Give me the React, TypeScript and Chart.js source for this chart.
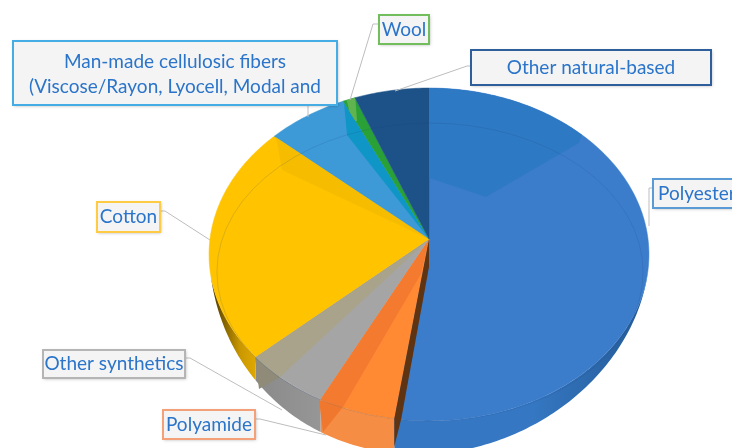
import React, { useEffect, useRef } from "react";
import { Chart, registerables } from "chart.js";

Chart.register(...registerables);

// ---- data ----
const categories = [
  "Polyester",
  "Polyamide",
  "Other synthetics",
  "Cotton",
  "Man-made cellulosic fibers",
  "Wool",
  "Other natural-based",
];
const shares = [52.3, 5.2, 5.8, 23.2, 6.5, 1.0, 6.0];
const topColors = ["#3C7DCB", "#FF8A33", "#A5A5A5", "#FFC300", "#3D9AD6", "#2AA136", "#1C5288"];
const sideLight = ["#3577C2", "#F58D45", "#969696", "#E0A800", "#3D9AD6", "#2AA136", "#1C5288"];
const sideDark = ["#245A96", "#F58D45", "#8A8A8A", "#4A3800", "#3D9AD6", "#2AA136", "#1C5288"];

// ---- label boxes (style) ----
type Box = { lines: string[]; x: number; y: number; w: number; h: number; border: string; lead: number[][] };
const boxes: Box[] = [
  { lines: ["Polyester"], x: 653, y: 179, w: 100, h: 29, border: "#5B9BD5", lead: [[653, 188], [649, 188], [649, 226]] },
  { lines: ["Polyamide"], x: 163, y: 410, w: 92, h: 29, border: "#F4A078", lead: [[255, 419], [260, 419], [326, 435]] },
  { lines: ["Other synthetics"], x: 43, y: 350, w: 142, h: 28, border: "#B5B5B5", lead: [[185, 358], [190, 358], [282, 410]] },
  { lines: ["Cotton"], x: 97, y: 202, w: 63, h: 30, border: "#FFCB45", lead: [[160, 211], [165, 211], [210, 240]] },
  {
    lines: ["Man-made cellulosic fibers", "(Viscose/Rayon, Lyocell, Modal and"],
    x: 13, y: 41, w: 324, h: 64, border: "#45ADE3", lead: [[308, 105], [308, 117]],
  },
  { lines: ["Wool"], x: 379, y: 15, w: 50, h: 29, border: "#72BE5C", lead: [[379, 24], [373, 24], [350, 100]] },
  { lines: ["Other natural-based"], x: 471, y: 50, w: 240, h: 35, border: "#2E5F9A", lead: [[471, 66], [467, 66], [395, 91]] },
];

// ---- pie geometry (style) ----
const CX = 429;
const CY = 239;
const RX = 219;
const RY = 165;
const PERSP = 0.093;

const rim = (t: number, r = 1): [number, number] => {
  const w = 1 / (1 - PERSP * Math.sin(t) * r);
  return [CX + RX * r * Math.cos(t) * w, CY + RY * r * Math.sin(t) * w];
};

const SIDE_FROM = (12 * Math.PI) / 180;
const SIDE_TO = (167 * Math.PI) / 180;
const depth = (t: number) => {
  if (t <= SIDE_FROM || t >= SIDE_TO) return 0;
  const s = (t - SIDE_FROM) / (SIDE_TO - SIDE_FROM);
  return 34 * Math.sin(Math.PI * Math.pow(s, 1.3));
};

// shaded facets, offset from the pie centre
const facets: { slice: number; color: string; pts: number[][] }[] = [
  { slice: 0, color: "#2E79C3", pts: [[0, -170], [175, -170], [150, -96], [57, -42], [0, -61]] },
  { slice: 3, color: "#F5BC00", pts: [[0, 0], [-147, -69], [-153, -103], [-100, -150]] },
  { slice: 4, color: "#0F96C6", pts: [[-40, -160], [-85, -136], [-82, -104], [0, 0]] },
  { slice: 5, color: "#60B44F", pts: [[-84, -145], [-74, -145], [-72, -118], [-77, -118]] },
  { slice: 2, color: "#A9A38C", pts: [[0, 0], [-180, 122], [-149, 138]] },
  { slice: 1, color: "#F47A30", pts: [[0, 0], [-115, 168], [-86, 168], [-8, 35]] },
];
// the same facets carried on over the side walls
const wallFacets: { color: string; pts: number[][] }[] = [
  { color: "#8F8B78", pts: [[-174, 118], [-170, 150], [-149, 138]] },
  { color: "#F0782E", pts: [[-110, 161], [-106, 193], [-86, 168]] },
];

const slicePath = (ctx: CanvasRenderingContext2D, a: number, b: number) => {
  ctx.beginPath();
  ctx.moveTo(CX, CY);
  const n = Math.max(2, Math.ceil((b - a) * 60));
  for (let i = 0; i <= n; i++) {
    const [x, y] = rim(a + ((b - a) * i) / n);
    ctx.lineTo(x, y);
  }
  ctx.closePath();
};

const poly = (ctx: CanvasRenderingContext2D, pts: number[][]) => {
  ctx.beginPath();
  pts.forEach(([dx, dy], k) => (k ? ctx.lineTo(CX + dx, CY + dy) : ctx.moveTo(CX + dx, CY + dy)));
  ctx.closePath();
};

const piePlugin = {
  id: "perspectivePie",
  beforeDatasetsDraw(chart: any) {
    const ctx: CanvasRenderingContext2D = chart.ctx;
    const arcs = chart.getDatasetMeta(0).data as any[];

    // side walls
    arcs.forEach((arc, i) => {
      const a = Math.max(arc.startAngle, SIDE_FROM);
      const b = Math.min(arc.endAngle, SIDE_TO);
      if (b <= a) return;
      const n = Math.ceil((b - a) * 60);
      ctx.beginPath();
      for (let k = 0; k <= n; k++) {
        const [x, y] = rim(a + ((b - a) * k) / n);
        if (k === 0) ctx.moveTo(x, y);
        else ctx.lineTo(x, y);
      }
      for (let k = n; k >= 0; k--) {
        const t = a + ((b - a) * k) / n;
        const [x, y] = rim(t);
        ctx.lineTo(x, y + depth(t) + 0.5);
      }
      ctx.closePath();
      const [x0] = rim(a);
      const [x1] = rim(b);
      const g = ctx.createLinearGradient(x0, 0, x1, 0);
      if (i === 0) {
        g.addColorStop(0, sideDark[i]);
        g.addColorStop(0.45, sideLight[i]);
        g.addColorStop(1, sideLight[i]);
      } else {
        g.addColorStop(0, sideLight[i]);
        g.addColorStop(i === 3 ? 0.35 : 1, i === 3 ? "#C99700" : sideDark[i]);
        g.addColorStop(1, sideDark[i]);
      }
      ctx.fillStyle = g;
      ctx.fill();
    });
    wallFacets.forEach((f) => {
      poly(ctx, f.pts);
      ctx.fillStyle = f.color;
      ctx.fill();
    });

    // top surfaces
    arcs.forEach((arc, i) => {
      slicePath(ctx, arc.startAngle, arc.endAngle);
      ctx.fillStyle = topColors[i];
      ctx.fill();
      ctx.strokeStyle = topColors[i];
      ctx.lineWidth = 0.5;
      ctx.stroke();
    });

    // facets
    facets.forEach((f) => {
      const arc = arcs[f.slice];
      ctx.save();
      slicePath(ctx, arc.startAngle, arc.endAngle);
      ctx.clip();
      poly(ctx, f.pts);
      ctx.fillStyle = f.color;
      ctx.fill();
      ctx.restore();
    });

    // inner rim line
    ctx.save();
    ctx.beginPath();
    ctx.ellipse(CX + 1, CY + 33, RX * 0.973, RY * 0.903, 0, 0, Math.PI * 2);
    ctx.strokeStyle = "rgba(20,60,120,0.15)";
    ctx.lineWidth = 1;
    ctx.stroke();
    ctx.restore();

    // exposed wall between the polyester and polyamide slices
    const [ex, ey] = rim(arcs[0].endAngle);
    ctx.beginPath();
    ctx.moveTo(CX, CY);
    ctx.lineTo(CX, CY + 28);
    ctx.lineTo(ex + 7, ey);
    ctx.lineTo(ex, ey + 28);
    ctx.lineTo(ex, ey);
    ctx.closePath();
    ctx.fillStyle = "#5F3413";
    ctx.fill();

    return false;
  },
  afterDraw(chart: any) {
    const ctx: CanvasRenderingContext2D = chart.ctx;
    boxes.forEach((b) => {
      ctx.beginPath();
      b.lead.forEach(([x, y], k) => (k ? ctx.lineTo(x, y) : ctx.moveTo(x, y)));
      ctx.strokeStyle = "#BDBDBD";
      ctx.lineWidth = 1;
      ctx.stroke();
    });
    boxes.forEach((b) => {
      ctx.save();
      ctx.shadowColor = "rgba(0,0,0,0.28)";
      ctx.shadowBlur = 3;
      ctx.shadowOffsetX = 1;
      ctx.shadowOffsetY = 1;
      ctx.fillStyle = "#F4F4F5";
      ctx.fillRect(b.x, b.y, b.w, b.h);
      ctx.restore();
      ctx.strokeStyle = b.border;
      ctx.lineWidth = 2;
      ctx.strokeRect(b.x, b.y, b.w, b.h);
      ctx.fillStyle = "#2A74C9";
      ctx.font = '19px Lato, "Open Sans", sans-serif';
      ctx.textBaseline = "middle";
      if (b.lines.length > 1) {
        ctx.textAlign = "center";
        b.lines.forEach((t, k) => ctx.fillText(t, b.x + b.w / 2, b.y + 21 + k * 25));
      } else if (b.lines[0] === "Polyester") {
        ctx.textAlign = "left";
        ctx.fillText(b.lines[0], b.x + 5, b.y + b.h / 2);
      } else {
        ctx.textAlign = "center";
        ctx.fillText(b.lines[0], b.x + b.w / 2, b.y + b.h / 2);
      }
    });
  },
};

export default function App() {
  const ref = useRef<HTMLCanvasElement>(null);
  useEffect(() => {
    const chart = new Chart(ref.current!, {
      type: "pie",
      data: {
        labels: categories,
        datasets: [{ data: shares, backgroundColor: topColors, borderWidth: 0 }],
      },
      options: {
        animation: false,
        responsive: false,
        devicePixelRatio: 1,
        plugins: { legend: { display: false }, tooltip: { enabled: false } },
      },
      plugins: [piePlugin],
    } as any);
    return () => chart.destroy();
  }, []);
  return (
    <div style={{ position: "fixed", left: 0, top: 0, width: 732, height: 448, background: "#fff", overflow: "hidden" }}>
      <canvas ref={ref} width={732} height={448} style={{ display: "block" }} />
    </div>
  );
}
